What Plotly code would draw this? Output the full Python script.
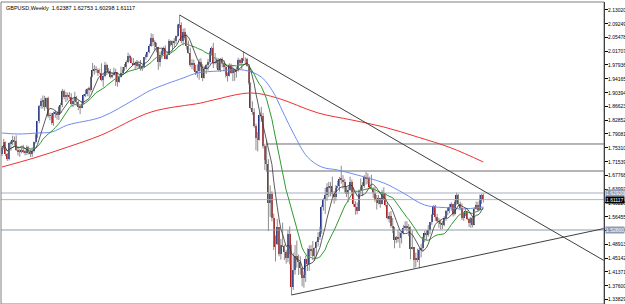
import plotly.graph_objects as go
import pandas as pd

title_text = "GBPUSD,Weekly  1.62387 1.62753 1.60298 1.61117"
first_open = 1.7350

closes = [
1.7530,1.7680,1.7350,1.7210,
1.7650,1.7670,1.7750,1.7710,1.7470,
1.7420,1.7440,1.7460,1.7440,
1.7380,1.7540,1.7420,1.7370,
1.7440,1.7680,1.7870,1.8250,
1.8660,1.8800,1.8840,1.8640,1.8880,
1.8400,1.8410,1.8200,1.8480,
1.8490,1.8420,1.8640,1.8700,
1.9090,1.8930,1.8950,1.8970,1.8920,
1.8720,1.8810,1.8930,1.8790,
1.8650,1.8630,1.8730,1.8960,
1.9000,1.9140,1.9110,1.9470,1.9650,
1.9680,1.9660,1.9580,1.9580,
1.9390,1.9480,1.9790,1.9650,1.9620,
1.9470,1.9530,1.9570,1.9600,
1.9320,1.9460,1.9570,1.9670,
1.9750,1.9880,2.0040,1.9980,
1.9860,1.9810,1.9850,1.9770,1.9820,
1.9720,1.9740,2.0000,2.0070,
2.0140,2.0320,2.0530,2.0410,
2.0350,2.0290,1.9880,2.0080,2.0170,
2.0250,1.9970,2.0080,2.0440,
2.0340,2.0400,2.0450,2.0580,2.0880,
2.0890,2.0450,2.0700,2.0520,
2.0300,2.0130,1.9780,1.9850,
1.9790,1.9590,1.9640,1.9880,1.9750,
1.9430,1.9690,1.9780,1.9870,
2.0140,2.0270,1.9860,1.9870,
1.9920,1.9650,1.9950,1.9860,
1.9750,1.9510,1.9500,1.9800,1.9580,
1.9690,1.9600,1.9680,1.9930,
1.9840,1.9980,1.9960,1.9960,
1.9770,1.9300,1.8620,1.8510,1.8120,
1.7810,1.7730,1.8420,1.8400,
1.7580,1.7190,1.7080,1.6010,1.6270,
1.5620,1.4820,1.4900,1.5360,
1.4620,1.4870,1.4840,1.4690,
1.4520,1.5170,1.4620,1.3730,1.4190,
1.4580,1.4470,1.4400,1.4230,
1.3980,1.4060,1.4500,1.4340,
1.4750,1.4730,1.4560,1.4780,
1.4940,1.5100,1.5220,1.5920,1.6140,
1.6240,1.6460,1.6440,1.6480,
1.6270,1.6170,1.6440,1.6480,
1.6680,1.6660,1.6590,1.6470,1.6270,
1.6370,1.6590,1.6310,1.5990,
1.5910,1.5800,1.6340,1.6460,1.6490,
1.6740,1.6700,1.6690,1.6460,
1.6400,1.6300,1.6110,1.6010,
1.6150,1.6000,1.6280,1.6140,1.5970,
1.5600,1.5650,1.5400,1.5360,
1.5000,1.5080,1.5060,1.5060,1.5200,
1.5340,1.5390,1.5350,1.5310,
1.4770,1.4810,1.4460,1.4500,1.4460,
1.4720,1.4780,1.5090,1.5190,
1.5150,1.5270,1.5500,1.5700,
1.5940,1.5630,1.5520,1.5510,
1.5460,1.5430,1.5600,1.5800,1.5880,
1.5910,1.6000,1.5730,1.6050,
1.6230,1.5990,1.5880,1.5610,
1.5760,1.5790,1.5580,1.5480,
1.5600,1.5430,1.5850,1.5970,1.5830,
1.6110,1.62387,1.61117,
]

highs = [
1.7580,1.7770,1.7700,1.7390,
1.7680,1.7720,1.7860,1.7840,1.7870,
1.7530,1.7500,1.7560,1.7610,
1.7480,1.7600,1.7570,1.7490,
1.7540,1.7700,1.7920,1.8260,
1.8700,1.8880,1.8960,1.8950,1.8900,
1.8930,1.8490,1.8480,1.8520,
1.8560,1.8540,1.8670,1.8760,
1.9140,1.9120,1.9060,1.9040,1.9050,
1.9020,1.8890,1.9060,1.8950,
1.8830,1.8680,1.8820,1.9000,
1.9120,1.9160,1.9200,1.9480,1.9850,
1.9790,1.9760,1.9700,1.9690,
1.9840,1.9560,1.9880,1.9830,1.9710,
1.9690,1.9600,1.9720,1.9690,
1.9410,1.9510,1.9750,1.9740,
1.9820,1.9920,2.0130,2.0080,
2.0000,1.9980,1.9890,1.9930,1.9870,
1.9930,1.9800,2.0010,2.0100,
2.0160,2.0370,2.0660,2.0640,
2.0470,2.0400,2.0290,2.0160,2.0230,
2.0300,2.0330,2.0170,2.0500,
2.0470,2.0460,2.0530,2.0600,2.0920,
2.1160,2.0960,2.0790,2.0800,
2.0630,2.0460,2.0270,1.9950,
1.9940,1.9800,1.9810,1.9960,1.9980,
1.9810,1.9760,1.9820,1.9960,
2.0180,2.0300,2.0400,2.0120,
2.0000,1.9980,1.9990,2.0000,
1.9930,1.9800,1.9590,1.9840,1.9830,
1.9760,1.9700,1.9740,1.9990,
1.9960,1.9990,2.0160,2.0000,
1.9990,1.9820,1.9320,1.8800,1.8610,
1.8190,1.7960,1.8500,1.8650,
1.8480,1.7640,1.7740,1.7220,1.6500,
1.6340,1.5730,1.5130,1.5580,
1.5320,1.5040,1.5480,1.4880,
1.4740,1.5280,1.5380,1.4880,1.4660,
1.4870,1.4990,1.4610,1.4560,
1.4280,1.4150,1.4580,1.4780,
1.4860,1.4870,1.4980,1.4800,
1.4980,1.5220,1.5370,1.5960,1.6150,
1.6430,1.6560,1.6600,1.6590,
1.6740,1.6350,1.6510,1.6630,
1.6730,1.7040,1.6780,1.6680,1.6460,
1.6470,1.6740,1.6660,1.6450,
1.6070,1.6030,1.6390,1.6690,1.6590,
1.6780,1.6880,1.6830,1.6740,
1.6790,1.6450,1.6460,1.6240,
1.6240,1.6160,1.6380,1.6450,1.6280,
1.6050,1.5770,1.5800,1.5610,
1.5310,1.5120,1.5290,1.5230,1.5260,
1.5420,1.5520,1.5520,1.5440,
1.5380,1.5270,1.4810,1.4660,1.4770,
1.4790,1.4900,1.5100,1.5260,
1.5270,1.5420,1.5500,1.5720,
1.5960,1.5970,1.5720,1.5610,
1.5550,1.5530,1.5660,1.5830,1.5900,
1.6000,1.6040,1.5990,1.6090,
1.6300,1.6260,1.6060,1.6010,
1.5780,1.5890,1.5810,1.5620,
1.5640,1.5660,1.5900,1.6060,1.6060,
1.6250,1.6270,1.62753,
]

lows = [
1.7300,1.7480,1.7300,1.7170,
1.7180,1.7450,1.7600,1.7590,1.7440,
1.7320,1.7280,1.7380,1.7380,
1.7320,1.7330,1.7350,1.7280,
1.7280,1.7400,1.7640,1.7800,
1.8200,1.8600,1.8600,1.8540,1.8600,
1.8350,1.8280,1.8160,1.8130,
1.8350,1.8300,1.8290,1.8480,
1.8640,1.8850,1.8780,1.8820,1.8860,
1.8680,1.8640,1.8710,1.8680,
1.8560,1.8450,1.8610,1.8710,
1.8920,1.8940,1.8930,1.9060,1.9460,
1.9530,1.9580,1.9490,1.9540,
1.9350,1.9200,1.9460,1.9520,1.9550,
1.9420,1.9430,1.9500,1.9220,
1.9200,1.9310,1.9450,1.9550,
1.9630,1.9680,1.9840,1.9890,
1.9840,1.9790,1.9670,1.9720,1.9680,
1.9640,1.9630,1.9750,1.9940,
2.0010,2.0120,2.0290,2.0310,
2.0180,2.0140,1.9660,1.9750,1.9960,
2.0080,1.9950,1.9940,2.0080,
2.0300,2.0190,2.0280,2.0370,2.0550,
2.0800,2.0390,2.0330,2.0470,
2.0220,2.0100,1.9740,1.9680,
1.9640,1.9520,1.9450,1.9390,1.9620,
1.9350,1.9450,1.9550,1.9640,
1.9830,2.0060,1.9710,1.9810,
1.9700,1.9620,1.9600,1.9730,
1.9620,1.9450,1.9340,1.9480,1.9550,
1.9350,1.9360,1.9450,1.9610,
1.9770,1.9680,1.9900,1.9800,
1.9750,1.9250,1.8580,1.8430,1.8080,
1.7460,1.7430,1.7750,1.8240,
1.7510,1.6920,1.6890,1.5250,1.5640,
1.5520,1.4730,1.4420,1.4870,
1.4560,1.4470,1.4820,1.4460,
1.4360,1.4400,1.4340,1.3500,1.3640,
1.4060,1.4250,1.4050,1.4060,
1.3740,1.3700,1.3860,1.4160,
1.4160,1.4570,1.4460,1.4440,
1.4560,1.4830,1.5010,1.5170,1.5810,
1.5720,1.6080,1.6180,1.6200,
1.6190,1.6000,1.6080,1.6420,
1.6330,1.6550,1.6410,1.6300,1.6180,
1.6040,1.6350,1.6280,1.5920,
1.5700,1.5710,1.5830,1.6250,1.6210,
1.6430,1.6520,1.6540,1.6420,
1.6380,1.6160,1.6050,1.5840,
1.5980,1.5890,1.5980,1.6100,1.5920,
1.5570,1.5480,1.5340,1.5200,
1.4780,1.4920,1.4940,1.4790,1.4910,
1.5160,1.5280,1.5240,1.5110,
1.4480,1.4750,1.4230,1.4260,1.4400,
1.4230,1.4530,1.4700,1.4950,
1.5000,1.5100,1.5160,1.5420,
1.5710,1.5530,1.5480,1.5340,
1.5290,1.5300,1.5380,1.5530,1.5680,
1.5740,1.5810,1.5650,1.5680,
1.5970,1.5930,1.5820,1.5550,
1.5530,1.5660,1.5550,1.5360,
1.5340,1.5350,1.5440,1.5840,1.5770,
1.5960,1.5990,1.60298,
]

# slow moving averages (bar index, price)
blue_i = [0, 9, 20, 28, 37, 56, 74, 84, 102, 110, 122, 136, 146, 153, 155, 164, 172, 180, 189, 200, 215, 226, 238, 253, 259, 271]
blue_p = [1.7934, 1.7906, 1.7934, 1.7961, 1.8152, 1.8371, 1.8836, 1.9110, 1.9438, 1.9575, 1.9629, 1.9657, 1.9465, 1.9028, 1.8836, 1.7934, 1.7277, 1.7004, 1.6921, 1.6785, 1.6566, 1.6292, 1.5964, 1.5882, 1.5855, 1.5909]
red_i = [0, 18, 37, 56, 84, 112, 119, 140, 155, 178, 197, 215, 234, 253, 271]
red_p = [1.7004, 1.7250, 1.7550, 1.7879, 1.8508, 1.8754, 1.8836, 1.9028, 1.8891, 1.8481, 1.8289, 1.8098, 1.7824, 1.7523, 1.7140]

tick_vals = [2.13020, 2.09249, 2.05478, 2.01707, 1.97936, 1.94165, 1.90394, 1.86623,
             1.82852, 1.79081, 1.75310, 1.71539, 1.67768, 1.63997, 1.60226, 1.56455,
             1.52684, 1.48913, 1.45142, 1.41371, 1.37600, 1.33829]

# drawn objects
trend_down_i = [100, 339]
trend_down_p = [2.1161, 1.4444]
trend_up_i = [163, 339]
trend_up_p = [1.3503, 1.5321]
part_levels = [1.7633, 1.6894]
part_level_start = 148.6
full_level_hi = 1.6292
full_level_lo = 1.5280

x_range = [-0.56, 338.96]
y_range = [1.32563, 2.15166]

opens = [first_open] + closes[:-1]
n = len(closes)
idx = list(range(n))

s = pd.Series(closes)
green = s.rolling(20, min_periods=1).mean()
black = s.rolling(8, min_periods=1).mean()

wx, wy = [], []
for i in idx:
    top = max(highs[i], opens[i], closes[i])
    bot = min(lows[i], opens[i], closes[i])
    wx += [i, i, None]
    wy += [bot, top, None]

up_x, up_b, up_h, dn_x, dn_b, dn_h = [], [], [], [], [], []
for i in idx:
    o, c = opens[i], closes[i]
    if c >= o:
        up_x.append(i); up_b.append(o); up_h.append(c - o)
    else:
        dn_x.append(i); dn_b.append(c); dn_h.append(o - c)

fig = go.Figure()
# horizontal levels
fig.add_trace(go.Scatter(x=[x_range[0], x_range[1]], y=[full_level_hi, full_level_hi], mode="lines",
                         line=dict(color="#c4cad6", width=1.5), hoverinfo="skip"))
fig.add_trace(go.Scatter(x=[x_range[0], x_range[1]], y=[closes[-1], closes[-1]], mode="lines",
                         line=dict(color="#b8b8b8", width=1), hoverinfo="skip"))
fig.add_trace(go.Scatter(x=[x_range[0], x_range[1]], y=[full_level_lo, full_level_lo], mode="lines",
                         line=dict(color="#8e9bb0", width=1), hoverinfo="skip"))
for lv in part_levels:
    fig.add_trace(go.Scatter(x=[part_level_start, x_range[1]], y=[lv, lv], mode="lines",
                             line=dict(color="#6a6a6a", width=1), hoverinfo="skip"))

# moving averages
fig.add_trace(go.Scatter(x=red_i, y=red_p, mode="lines", line=dict(color="#ee3030", width=1, shape="spline"),
                         hoverinfo="skip"))
fig.add_trace(go.Scatter(x=blue_i, y=blue_p, mode="lines", line=dict(color="#6f8cf0", width=1, shape="spline"),
                         hoverinfo="skip"))
fig.add_trace(go.Scatter(x=idx, y=green, mode="lines", line=dict(color="#2e9a2e", width=1), hoverinfo="skip"))

# candles
fig.add_trace(go.Scatter(x=wx, y=wy, mode="lines", line=dict(color="#8c8c8c", width=1), hoverinfo="skip"))
fig.add_trace(go.Bar(x=up_x, y=up_h, base=up_b, width=0.8, marker=dict(color="#23348a", line=dict(width=0)),
                     hoverinfo="skip"))
fig.add_trace(go.Bar(x=dn_x, y=dn_h, base=dn_b, width=0.8, marker=dict(color="#b01c1c", line=dict(width=0)),
                     hoverinfo="skip"))
fig.add_trace(go.Scatter(x=idx, y=black, mode="lines", line=dict(color="#333333", width=0.8), hoverinfo="skip"))

# trend lines
fig.add_trace(go.Scatter(x=trend_down_i, y=trend_down_p, mode="lines", line=dict(color="#404040", width=1),
                         hoverinfo="skip"))
fig.add_trace(go.Scatter(x=trend_up_i, y=trend_up_p, mode="lines", line=dict(color="#404040", width=1),
                         hoverinfo="skip"))

fig.update_layout(
    width=625, height=304,
    margin=dict(l=1, r=21, t=2, b=0),
    paper_bgcolor="white", plot_bgcolor="white",
    showlegend=False, barmode="overlay", bargap=0,
    xaxis=dict(range=x_range, visible=False, showgrid=False, zeroline=False),
    yaxis=dict(range=y_range, side="right", tickvals=tick_vals, showticklabels=False,
               ticks="outside", ticklen=3, tickcolor="#000", tickwidth=1,
               showline=True, linecolor="#000", linewidth=1, showgrid=False, zeroline=False,
               automargin=False),
    shapes=[dict(type="rect", xref="paper", yref="paper", x0=0, x1=1, y0=0, y1=1.0,
                 line=dict(color="#808080", width=1), fillcolor="rgba(0,0,0,0)", layer="above")],
)

# price scale labels
for v in tick_vals:
    fig.add_annotation(x=1, xref="paper", y=v, yref="y", xanchor="left", yanchor="middle",
                       text="%.5f" % v, showarrow=False, xshift=3, borderpad=0,
                       font=dict(family="Liberation Sans", size=5, color="#000"))

boxes = [(full_level_hi, "#8d9cb6", "#ffffff"), (closes[-1], "#000000", "#ffffff"), (full_level_lo, "#8d9cb6", "#ffffff")]
for val, bg, fg in boxes:
    fig.add_annotation(x=1, xref="paper", y=val, yref="y", xanchor="left", yanchor="middle",
                       text="%.5f" % val, showarrow=False, bgcolor=bg, borderpad=0,
                       font=dict(family="Liberation Sans", size=5, color=fg), xshift=1)

fig.add_annotation(x=0, y=1, xref="paper", yref="paper", xanchor="left", yanchor="top", xshift=3, yshift=-1,
                   text=title_text, showarrow=False, font=dict(family="Liberation Sans", size=5.5, color="#000"))

fig.write_html("out.html")
